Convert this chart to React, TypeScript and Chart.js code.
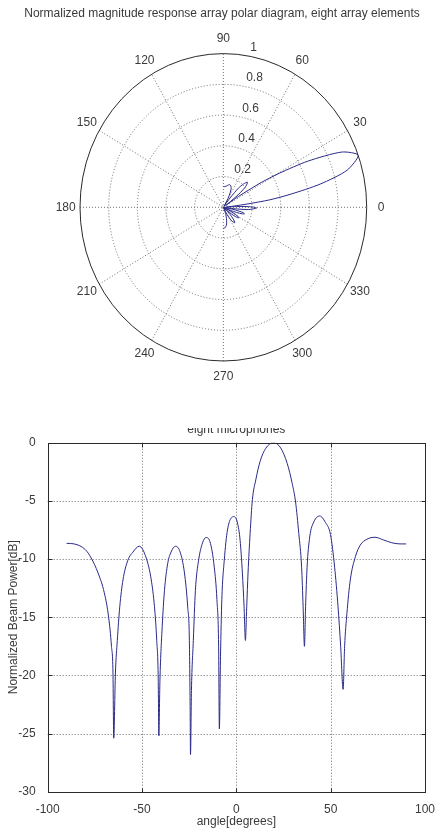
import React, { useEffect, useRef } from "react";
import { Chart, registerables } from "chart.js";

Chart.register(...registerables);

// ---------- data ----------
const angleDeg = [
  -90, -86, -80, -77, -73.3, -70, -67.7, -66.2, -65.4, -65.0, -64.1, -63.1, -61.8, -60.1, -57.5, -54.8,
  -51.5, -47.8, -45.1, -43.4, -42.2, -41.4, -41.1, -40.5, -39.3, -38.1, -36.4, -34.6, -32.2, -29.8,
  -27.5, -25.8, -24.9, -24.5, -24.3, -23.8, -22.8, -21.7, -20.0, -17.9, -16.1, -14.0, -11.7, -10.3,
  -9.4, -9.0, -8.4, -7.7, -6.4, -4.7, -1.2, 0.6, 2.0, 3.2, 4.1, 4.8, 5.5, 6.2, 7.3, 8.5, 10.3, 12.6,
  15.6, 19.8, 23.5, 27.0, 29.6, 31.4, 33.1, 34.6, 35.4, 36.1, 36.7, 37.5, 38.9, 41.1, 44.2, 47.2,
  49.9, 52.1, 53.9, 55.3, 56.6, 57.4, 58.6, 60.4, 63.1, 65.7, 69.2, 73.5, 78.0, 82.4, 86.8, 90,
];
const beamPowerDb = [
  -8.65, -8.7, -9.2, -9.9, -11.2, -12.9, -15.0, -17.5, -19.8, -25.4, -19.8, -17.0, -14.1, -11.8, -10.1, -9.4,
  -8.9, -9.9, -11.8, -14.1, -17.0, -20.4, -25.2, -20.4, -15.8, -12.7, -10.4, -9.4, -8.9, -9.4,
  -11.2, -14.1, -17.0, -22.7, -26.8, -21.3, -17.0, -12.7, -10.1, -8.6, -8.15, -8.5, -10.7, -13.5,
  -17.5, -24.6, -18.4, -13.5, -10.1, -7.5, -6.35, -6.9, -8.4, -11.2, -14.1, -17.0, -14.1, -11.2, -7.8, -4.9, -3.2, -1.6,
  -0.48, 0, -0.45, -1.8, -3.5, -5.1, -7.8, -10.7, -14.1, -17.5, -14.1, -10.7, -8.1, -6.8, -6.3, -6.85,
  -7.9, -10.7, -14.1, -17.5, -21.2, -17.5, -14.7, -11.8, -9.8, -8.8, -8.3, -8.13, -8.36, -8.6, -8.7, -8.7,
];

const polarSpokeAngles = [0, 30, 60, 90, 120, 150, 180, 210, 240, 270, 300, 330];
const polarRings = [0.2, 0.4, 0.6, 0.8, 1];
const polarRingLabels = ["0.2", "0.4", "0.6", "0.8", "1"];

const topTitle = "Normalized magnitude response array polar diagram, eight array elements";
const bottomTitle = "eight microphones";
const xAxisTitle = "angle[degrees]";
const yAxisTitle = "Normalized Beam Power[dB]";

const xMin = -100, xMax = 100, xStep = 50;
const yMin = -30, yMax = 0, yStep = 5;

// ---------- styles ----------
const FONT = "'Liberation Sans', Arial, sans-serif";
const LINE_COLOR = "#2a2a88";
const TEXT_COLOR = "#3a3a3a";
const GRID_COLOR = "#6e6e6e";
const AXIS_COLOR = "#2a2a2a";

Chart.defaults.font.family = FONT;

const polarPlugin = {
  id: "polarGrid",
  beforeDatasetsDraw(chart: any) {
    const { ctx } = chart;
    const xs = chart.scales.x;
    const ys = chart.scales.y;
    const cx = xs.getPixelForValue(0);
    const cy = ys.getPixelForValue(0);
    const rx = xs.getPixelForValue(1) - cx;
    const ry = cy - ys.getPixelForValue(1);
    ctx.save();
    ctx.fillStyle = "#fff";
    ctx.beginPath();
    ctx.ellipse(cx, cy, rx, ry, 0, 0, Math.PI * 2);
    ctx.fill();
    ctx.lineWidth = 1;
    ctx.strokeStyle = GRID_COLOR;
    ctx.setLineDash([1, 2]);
    polarRings.forEach((r) => {
      if (r >= 1) return;
      ctx.beginPath();
      ctx.ellipse(cx, cy, rx * r, ry * r, 0, 0, Math.PI * 2);
      ctx.stroke();
    });
    polarSpokeAngles.forEach((a) => {
      if (a >= 180) return;
      const t = (a * Math.PI) / 180;
      ctx.beginPath();
      ctx.moveTo(cx - rx * Math.cos(t), cy + ry * Math.sin(t));
      ctx.lineTo(cx + rx * Math.cos(t), cy - ry * Math.sin(t));
      ctx.stroke();
    });
    ctx.setLineDash([]);
    ctx.strokeStyle = AXIS_COLOR;
    ctx.beginPath();
    ctx.ellipse(cx, cy, rx, ry, 0, 0, Math.PI * 2);
    ctx.stroke();

    ctx.fillStyle = TEXT_COLOR;
    ctx.font = `12px ${FONT}`;
    ctx.textAlign = "center";
    ctx.textBaseline = "middle";
    polarSpokeAngles.forEach((a) => {
      const t = (a * Math.PI) / 180;
      ctx.fillText(String(a), cx + 1.1 * rx * Math.cos(t), cy - 1.1 * ry * Math.sin(t));
    });
    ctx.textAlign = "left";
    ctx.textBaseline = "bottom";
    const t82 = (82 * Math.PI) / 180;
    polarRings.forEach((r, i) => {
      const rr = r + 0.01;
      ctx.fillText("  " + polarRingLabels[i], cx + rr * rx * Math.cos(t82), cy - rr * ry * Math.sin(t82));
    });
    ctx.textAlign = "center";
    ctx.textBaseline = "alphabetic";
    ctx.fillText(topTitle, 222, 17);
    ctx.restore();
  },
};

const cartesianPlugin = {
  id: "matlabAxes",
  beforeDatasetsDraw(chart: any) {
    const { ctx, chartArea: a } = chart;
    const xs = chart.scales.x;
    const ys = chart.scales.y;
    ctx.save();
    ctx.lineWidth = 1;
    ctx.strokeStyle = GRID_COLOR;
    ctx.setLineDash([1, 2]);
    xs.ticks.forEach((t: any) => {
      if (t.value <= xMin || t.value >= xMax) return;
      const x = Math.round(xs.getPixelForValue(t.value)) + 0.5;
      ctx.beginPath();
      ctx.moveTo(x, a.top);
      ctx.lineTo(x, a.bottom);
      ctx.stroke();
    });
    ys.ticks.forEach((t: any) => {
      if (t.value <= yMin || t.value >= yMax) return;
      const y = Math.round(ys.getPixelForValue(t.value)) + 0.5;
      ctx.beginPath();
      ctx.moveTo(a.left, y);
      ctx.lineTo(a.right, y);
      ctx.stroke();
    });
    ctx.restore();
  },
  afterDatasetsDraw(chart: any) {
    const { ctx, chartArea: a } = chart;
    const xs = chart.scales.x;
    const ys = chart.scales.y;
    ctx.save();
    ctx.lineWidth = 1;
    ctx.strokeStyle = AXIS_COLOR;
    const L = Math.round(a.left) + 0.5;
    const R = Math.round(a.right) + 0.5;
    const T = Math.round(a.top) + 0.5;
    const B = Math.round(a.bottom) + 0.5;
    ctx.strokeRect(L, T, R - L, B - T);
    const tl = 4;
    ctx.beginPath();
    xs.ticks.forEach((t: any) => {
      const x = Math.round(xs.getPixelForValue(t.value)) + 0.5;
      ctx.moveTo(x, B);
      ctx.lineTo(x, B - tl);
      ctx.moveTo(x, T);
      ctx.lineTo(x, T + tl);
    });
    ys.ticks.forEach((t: any) => {
      const y = Math.round(ys.getPixelForValue(t.value)) + 0.5;
      ctx.moveTo(L, y);
      ctx.lineTo(L + tl, y);
      ctx.moveTo(R, y);
      ctx.lineTo(R - tl, y);
    });
    ctx.stroke();

    // partially hidden title (its upper part is covered in the reference)
    ctx.save();
    ctx.beginPath();
    ctx.rect(0, 28, chart.width, 20);
    ctx.clip();
    ctx.fillStyle = TEXT_COLOR;
    ctx.font = `12px ${FONT}`;
    ctx.textAlign = "center";
    ctx.textBaseline = "alphabetic";
    ctx.fillText(bottomTitle, (a.left + a.right) / 2, 33);
    ctx.restore();
    ctx.restore();
  },
};

export default function App() {
  const topRef = useRef<HTMLCanvasElement | null>(null);
  const botRef = useRef<HTMLCanvasElement | null>(null);

  useEffect(() => {
    const polarPoints = angleDeg.map((deg, i) => {
      const r = Math.pow(10, beamPowerDb[i] / 10);
      const t = (deg * Math.PI) / 180;
      return { x: r * Math.cos(t), y: r * Math.sin(t) };
    });
    const linePoints = angleDeg.map((deg, i) => ({ x: deg, y: beamPowerDb[i] }));

    const top = new Chart(topRef.current as HTMLCanvasElement, {
      type: "scatter",
      data: {
        datasets: [
          {
            data: polarPoints,
            showLine: true,
            borderColor: LINE_COLOR,
            borderWidth: 1,
            pointRadius: 0,
            tension: 0.25,
            clip: false as any,
          },
        ],
      },
      options: {
        animation: false,
        responsive: false,
        events: [],
        layout: { padding: { left: 80, right: 71.3, top: 53.6, bottom: 39 } },
        plugins: { legend: { display: false }, tooltip: { enabled: false }, title: { display: false } },
        scales: {
          x: { type: "linear", min: -1, max: 1, display: false },
          y: { type: "linear", min: -1, max: 1, display: false },
        },
      },
      plugins: [polarPlugin],
    });

    const tickFont = { size: 12, family: FONT };
    const bottom = new Chart(botRef.current as HTMLCanvasElement, {
      type: "scatter",
      data: {
        datasets: [
          {
            data: linePoints,
            showLine: true,
            borderColor: LINE_COLOR,
            borderWidth: 1,
            pointRadius: 0,
            cubicInterpolationMode: "monotone",
          },
        ],
      },
      options: {
        animation: false,
        responsive: false,
        events: [],
        layout: { padding: { left: 0, right: 11.3, top: 42.7, bottom: 0 } },
        plugins: { legend: { display: false }, tooltip: { enabled: false }, title: { display: false } },
        scales: {
          x: {
            type: "linear",
            min: xMin,
            max: xMax,
            grid: { display: false },
            border: { display: false },
            ticks: { stepSize: xStep, autoSkip: false, maxRotation: 0, color: TEXT_COLOR, font: tickFont, padding: 3 },
            title: { display: true, text: xAxisTitle, color: TEXT_COLOR, font: tickFont, padding: { top: 0, bottom: 1 } },
            afterFit: (s: any) => {
              s.height = 38.3;
            },
          },
          y: {
            type: "linear",
            min: yMin,
            max: yMax,
            grid: { display: false },
            border: { display: false },
            ticks: { stepSize: yStep, autoSkip: false, color: TEXT_COLOR, font: tickFont, padding: 4 },
            title: { display: true, text: yAxisTitle, color: TEXT_COLOR, font: tickFont, padding: { top: 6.5, bottom: 0 } },
            afterFit: (s: any) => {
              s.width = 47.7;
            },
          },
        },
      },
      plugins: [cartesianPlugin],
    });

    return () => {
      top.destroy();
      bottom.destroy();
    };
  }, []);

  return (
    <div style={{ position: "absolute", left: 0, top: 0, width: 438, height: 830, background: "#fff" }}>
      <canvas ref={topRef} width={438} height={400} style={{ position: "absolute", left: 0, top: 0, display: "block" }} />
      <canvas ref={botRef} width={438} height={430} style={{ position: "absolute", left: 0, top: 400, display: "block" }} />
    </div>
  );
}
